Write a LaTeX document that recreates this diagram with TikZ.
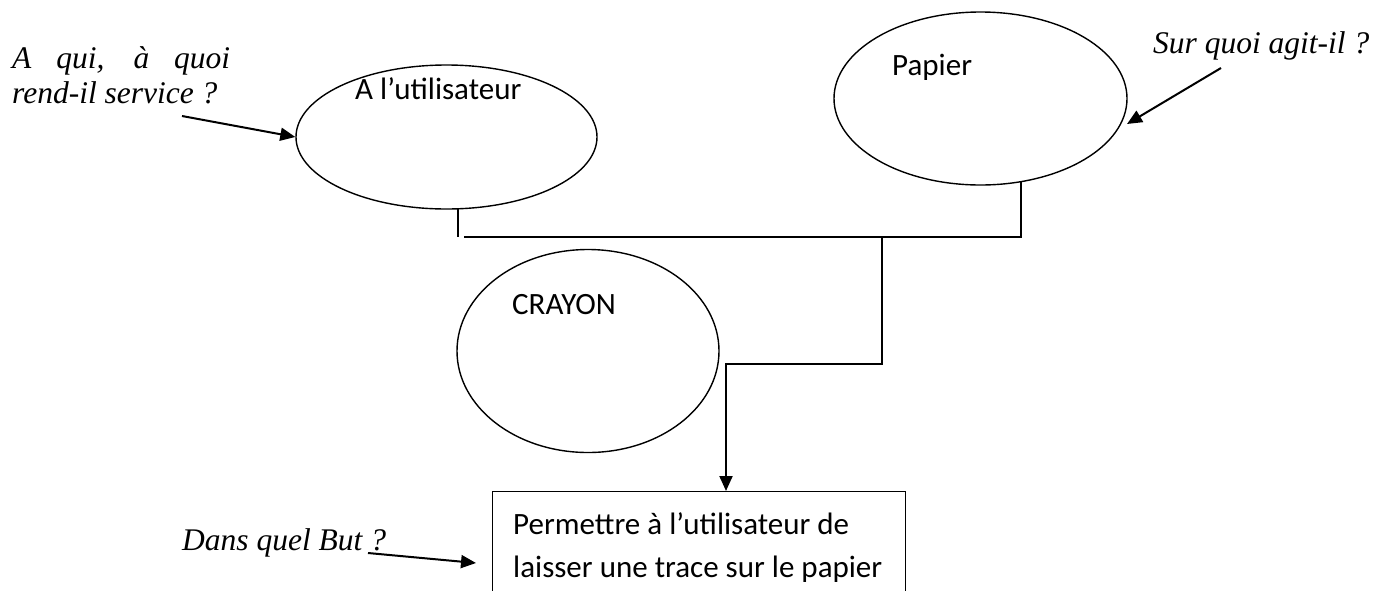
\documentclass[tikz,border=0pt]{standalone}
\usepackage{fontspec}
\setmainfont{Liberation Serif}
\newfontfamily\carl{Carlito}
\usetikzlibrary{arrows.meta,shapes.geometric}
\begin{document}
\begin{tikzpicture}[x=1pt,y=-1pt,
  ell/.style={draw, ellipse, inner sep=0pt, line width=1.4pt},
  boxlbl/.style={anchor=base west, inner sep=0pt, font=\carl\fontsize{31}{43}\selectfont},
  qlbl/.style={anchor=base west, inner sep=0pt, font=\itshape\fontsize{31.5}{35}\selectfont},
  conn/.style={line width=2pt},
  arr/.style={line width=2pt, -{Triangle[length=15pt,width=13pt]}}]
\useasboundingbox (0,0) rectangle (1380,590);
\clip (0,0) rectangle (1380,590);
\fill[white] (0,0) rectangle (1380,590);
% ellipses
\node[ell, minimum width=301pt, minimum height=144pt] (u) at (446.5,137) {};
\node[ell, minimum width=293pt, minimum height=173pt] (p) at (980.5,98.5) {};
\node[ell, minimum width=262pt, minimum height=203pt] (c) at (588,351) {};
\node[boxlbl] (ut) at (355,99) {A l’utilisateur};
\node[boxlbl] (pt) at (892,75) {Papier};
\node[boxlbl] (ct) at (512,314) {CRAYON};
% goal box
\node[draw, line width=1.4pt, anchor=north west, inner sep=0pt, minimum width=413pt, minimum height=160pt] (b) at (492,491) {};
\node[boxlbl] (bt1) at (513,534) {Permettre à l’utilisateur de};
\node[boxlbl] (bt2) at (513,577) {laisser une trace sur le papier};
% questions
\node[qlbl] (q1a) at (12,68) {\makebox[218pt][s]{A qui, à quoi}};
\node[qlbl] (q1b) at (12,103) {rend-il service ?};
\node[qlbl] (q2) at (1153,53) {Sur quoi agit-il ?};
\node[qlbl] (q3) at (182,550) {Dans quel But ?};
% question arrows
\coordinate (q1s) at (182,116);
\coordinate (q2s) at (1221,68);
\coordinate (q2e) at (1127,124);
\coordinate (q3s) at (368,553);
\coordinate (q3e) at (476,563);
\draw[arr] (q1s) -- (u.west);
\draw[arr] (q2s) -- (q2e);
\draw[arr] (q3s) -- (q3e);
% connectors
\coordinate (l1) at (458,209);
\coordinate (l2) at (458,237);
\coordinate (r1) at (1021,182);
\coordinate (h0) at (464,237);
\coordinate (j) at (882,237);
\coordinate (k) at (726,364);
\draw[conn] (l1) -- (l2);
\draw[conn] (r1) |- (h0);
\draw[arr] (j) |- (k) -- (k |- b.north);
\end{tikzpicture}
\end{document}
